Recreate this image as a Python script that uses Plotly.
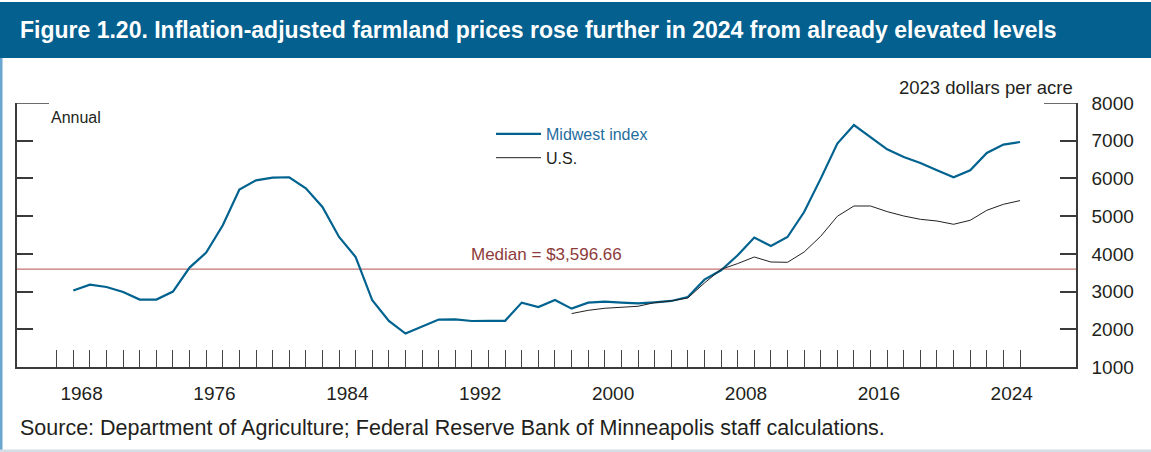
import plotly.graph_objects as go

# ---------------- data ----------------
years = list(range(1967, 2025))
midwest = [3030, 3185, 3121, 2989, 2787, 2787, 3000, 3636, 4033, 4757,
           5704, 5950, 6022, 6031, 5738, 5243, 4447, 3917, 2769, 2220,
           1886, 2079, 2257, 2265, 2220, 2225, 2225, 2707, 2591, 2777,
           2548, 2707, 2734, 2707, 2689, 2716, 2751, 2856, 3317, 3564,
           3962, 4431, 4208, 4447, 5110, 5995, 6923, 7417, 7099, 6772,
           6568, 6409, 6215, 6030, 6215, 6674, 6897, 6966]
us_years = list(range(1997, 2025))
us = [2416, 2503, 2557, 2583, 2610, 2707, 2751, 2830, 3227, 3590,
      3742, 3917, 3784, 3776, 4049, 4466, 4996, 5269, 5269, 5120,
      5004, 4916, 4871, 4784, 4890, 5155, 5314, 5412]
median_value = 3596.66
label_years = [1968, 1976, 1984, 1992, 2000, 2008, 2016, 2024]
y_ticks = [1000, 2000, 3000, 4000, 5000, 6000, 7000, 8000]

# ---------------- layout geometry ----------------
W, H = 1151, 452
L, R, T, B = 17, 1076, 103, 367
def px_x(p):
    return (p - L) / (R - L)
def px_y(p):
    return (B - p) / (B - T)

BLUE = "#00628F"
DARK = "#231F20"
AXIS = "#3a3a3a"
FONT = "Liberation Sans, Arial, sans-serif"

fig = go.Figure()
fig.add_trace(go.Scatter(x=years, y=midwest, mode="lines",
                         name="<span style='color:#1F6E9E'>Midwest index</span>",
                         line=dict(color=BLUE, width=2.2)))
fig.add_trace(go.Scatter(x=us_years, y=us, mode="lines", name="U.S.",
                         line=dict(color="#222222", width=1)))

fig.update_layout(
    width=W, height=H,
    margin=dict(l=L, r=W - R, t=T, b=H - B, pad=0),
    paper_bgcolor="white", plot_bgcolor="white",
    showlegend=True,
    legend=dict(x=px_x(491), y=px_y(117), xanchor="left", yanchor="top",
                bgcolor="rgba(0,0,0,0)", font=dict(family=FONT, size=16, color=DARK),
                itemwidth=45, tracegroupgap=0),
    xaxis=dict(range=[1963.61, 2027.37], showgrid=False, zeroline=False,
               showline=True, linecolor=AXIS, linewidth=1.5,
               tickmode="array", tickvals=[y - 0.5 for y in label_years],
               ticktext=[str(y) for y in label_years], ticks="",
               ticklabelstandoff=8,
               tickfont=dict(family=FONT, size=19, color=DARK),
               minor=dict(tickmode="array", tickvals=list(range(1966, 2025)),
                          ticks="inside", ticklen=17, tickwidth=1.3,
                          tickcolor="#444444", showgrid=False)),
    yaxis=dict(range=[1000, 8000], side="right", showgrid=False, zeroline=False,
               showline=True, mirror="ticks", linecolor=AXIS, linewidth=1.5,
               tickmode="array", tickvals=y_ticks, ticks="inside", ticklen=16,
               tickwidth=1.5, tickcolor=AXIS, ticklabelstandoff=10,
               tickfont=dict(family=FONT, size=19, color=DARK)),
)

shapes = [
    # title bar
    dict(type="rect", xref="paper", yref="paper", x0=px_x(0), x1=px_x(W),
         y0=px_y(58), y1=px_y(2), fillcolor="#03608F", line=dict(width=0), layer="below"),
    # left accent strip
    dict(type="rect", xref="paper", yref="paper", x0=px_x(0), x1=px_x(2.5),
         y0=px_y(450), y1=px_y(58), fillcolor="#6AA6CF", line=dict(width=0), layer="below"),
    # bottom border
    dict(type="rect", xref="paper", yref="paper", x0=px_x(0), x1=px_x(W),
         y0=px_y(452), y1=px_y(449.5), fillcolor="#D3DEE7", line=dict(width=0), layer="below"),
    # median line
    dict(type="line", xref="paper", yref="y", x0=0, x1=1, y0=median_value, y1=median_value,
         line=dict(color="#C27472", width=1.3), layer="below"),
    # long top ticks
    dict(type="line", xref="paper", yref="y", xsizemode="pixel", xanchor=0,
         x0=0, x1=32, y0=8000, y1=8000, line=dict(color=AXIS, width=1.5)),
    dict(type="line", xref="paper", yref="y", xsizemode="pixel", xanchor=1,
         x0=-32, x1=0, y0=8000, y1=8000, line=dict(color=AXIS, width=1.5)),
]

annotations = [
    dict(text="<b>Figure 1.20. Inflation-adjusted farmland prices rose further in 2024 from already elevated levels</b>",
         x=px_x(18), y=px_y(30), xref="paper", yref="paper", xanchor="left", yanchor="middle",
         showarrow=False, font=dict(family=FONT, size=23, color="white")),
    dict(text="Annual", x=px_x(49), y=px_y(118), xref="paper", yref="paper",
         xanchor="left", yanchor="middle", showarrow=False,
         font=dict(family=FONT, size=16, color=DARK)),
    dict(text="2023 dollars per acre", x=px_x(1075), y=px_y(88), xref="paper", yref="paper",
         xanchor="right", yanchor="middle", showarrow=False,
         font=dict(family=FONT, size=18.5, color=DARK)),
    dict(text="Median = $3,596.66", x=0.5, y=median_value, xref="paper", yref="y",
         xanchor="center", yanchor="bottom", yshift=3, showarrow=False,
         font=dict(family=FONT, size=17, color="#8E3B3B")),
    dict(text="Source: Department of Agriculture; Federal Reserve Bank of Minneapolis staff calculations.",
         x=px_x(18), y=px_y(428), xref="paper", yref="paper", xanchor="left", yanchor="middle",
         showarrow=False, font=dict(family=FONT, size=21.5, color=DARK)),
]
fig.update_layout(shapes=shapes, annotations=annotations)

fig.write_html("out.html", config={"displayModeBar": False},
               post_script="document.body.style.margin='0px';")
